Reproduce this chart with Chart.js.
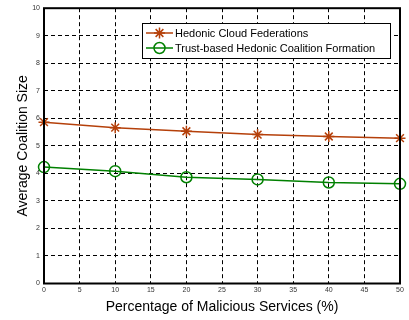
<!DOCTYPE html>
<html>
<head>
<meta charset="utf-8">
<script src="https://cdn.jsdelivr.net/npm/chart.js@4.4.0/dist/chart.umd.min.js"></script>
<style>
  html, body { margin: 0; padding: 0; background: #fff; }
  #wrap { width: 409px; height: 320px; }
</style>
</head>
<body>
<div id="wrap"><canvas id="grafico"></canvas></div>
<script>
// dados
const percentuais = [0, 10, 20, 30, 40, 50];
const hedonicCloud = [5.86, 5.66, 5.53, 5.41, 5.34, 5.28];
const trustHedonic = [4.23, 4.08, 3.86, 3.78, 3.67, 3.62];
const nomes = ['Hedonic Cloud Federations', 'Trust-based Hedonic Coalition Formation'];
const cores = ['#b5400a', '#008000'];

// moldura preta em volta da área do gráfico
const moldura = {
  id: 'moldura',
  afterDraw(c) {
    const a = c.chartArea, ctx = c.ctx;
    ctx.save();
    ctx.strokeStyle = '#000';
    ctx.lineWidth = 2;
    ctx.strokeRect(a.left, a.top, a.right - a.left, a.bottom - a.top);
    ctx.restore();
  }
};

// legenda dentro do gráfico, estilo matlab
const legendaInterna = {
  id: 'legendaInterna',
  afterDraw(c) {
    const ctx = c.ctx;
    const x = 142, y = 23, w = 248, h = 35;
    ctx.save();
    ctx.fillStyle = '#fff';
    ctx.fillRect(x, y, w, h);
    ctx.strokeStyle = '#000';
    ctx.lineWidth = 1;
    ctx.strokeRect(x + 0.5, y + 0.5, w, h);
    ctx.font = '11px "Liberation Sans", Arial, sans-serif';
    ctx.textBaseline = 'middle';
    c.data.datasets.forEach((ds, i) => {
      const ly = y + 10 + i * 15;
      ctx.strokeStyle = ds.borderColor;
      ctx.lineWidth = 1.5;
      ctx.beginPath();
      ctx.moveTo(x + 4, ly);
      ctx.lineTo(x + 31, ly);
      ctx.stroke();
      ctx.fillStyle = ds.pointBackgroundColor;
      Chart.helpers.drawPoint(ctx, {
        pointStyle: ds.pointStyle, radius: ds.pointRadius, borderWidth: ds.pointBorderWidth
      }, x + 17.5, ly);
      ctx.fillStyle = '#000';
      ctx.fillText(ds.label, x + 33, ly + 1);
    });
    ctx.restore();
  }
};

const ctx = document.getElementById('grafico').getContext('2d');
new Chart(ctx, {
  type: 'line',
  data: {
    labels: percentuais,
    datasets: [
      {
        label: nomes[0],
        data: hedonicCloud,
        borderColor: cores[0],
        backgroundColor: cores[0],
        borderWidth: 1.5,
        pointStyle: 'star',
        pointRadius: 5.5,
        pointBorderWidth: 1.5,
        pointBackgroundColor: cores[0],
        clip: false
      },
      {
        label: nomes[1],
        data: trustHedonic,
        borderColor: cores[1],
        backgroundColor: 'rgba(0,0,0,0)',
        borderWidth: 1.5,
        pointStyle: 'circle',
        pointRadius: 5.5,
        pointBorderWidth: 1.5,
        pointBackgroundColor: 'rgba(0,0,0,0)',
        clip: false
      }
    ]
  },
  options: {
    responsive: true,
    maintainAspectRatio: false,
    animation: false,
    layout: { padding: { top: 3, right: 9, left: 0, bottom: 0 } },
    plugins: { legend: { display: false }, tooltip: { enabled: false } },
    scales: {
      x: {
        type: 'linear',
        min: 0, max: 50,
        afterFit(s) { s.height = 36.5; },
        ticks: { stepSize: 5, padding: 2, color: '#333', font: { size: 7, family: 'Liberation Sans' } },
        grid: { color: '#000', lineWidth: 1, drawTicks: false },
        border: { display: false, dash: [4, 3] },
        title: { display: true, text: 'Percentage of Malicious Services (%)', color: '#000',
                 padding: { top: 0 }, font: { size: 14, family: 'Liberation Sans' } }
      },
      y: {
        min: 0, max: 10,
        afterFit(s) { s.width = 44; },
        ticks: { stepSize: 1, padding: 4, color: '#333', font: { size: 7, family: 'Liberation Sans' } },
        grid: { color: '#000', lineWidth: 1, drawTicks: false },
        border: { display: false, dash: [4, 3] },
        title: { display: true, text: 'Average Coalition Size', color: '#000',
                 padding: { top: 15, bottom: 4 }, font: { size: 14, family: 'Liberation Sans' } }
      }
    }
  },
  plugins: [moldura, legendaInterna]
});
</script>
</body>
</html>
